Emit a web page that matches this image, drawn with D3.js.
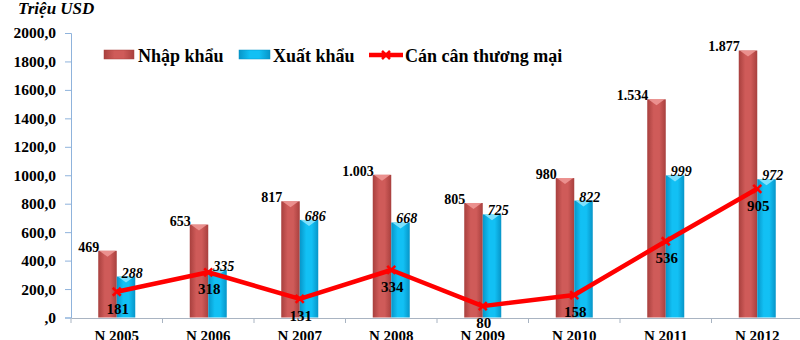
<!DOCTYPE html>
<html><head><meta charset="utf-8">
<script src="https://cdn.jsdelivr.net/npm/d3@7"></script>
<style>
body{margin:0;background:#fff;}
svg text{font-family:"Liberation Serif","DejaVu Serif",serif !important;}
</style></head>
<body>
<svg id="c" width="800" height="340"></svg>
<script>
const categories = ["N 2005","N 2006","N 2007","N 2008","N 2009","N 2010","N 2011","N 2012"];
const importVals = [469,653,817,1003,805,980,1534,1877];
const importLabels = ["469","653","817","1.003","805","980","1.534","1.877"];
const exportVals = [288,335,686,668,725,822,999,972];
const balanceVals = [181,318,131,334,80,158,536,905];
const yTicks = [0,200,400,600,800,1000,1200,1400,1600,1800,2000];
const yTickLabels = [",0","200,0","400,0","600,0","800,0","1000,0","1200,0","1400,0","1600,0","1800,0","2000,0"];
const seriesNames = ["Nhập khẩu","Xuất khẩu","Cán cân thương mại"];

const svg = d3.select("#c");
const x = d3.scaleBand().domain(categories).range([71,803]).padding(0);
const y = d3.scaleLinear().domain([0,2000]).range([317.5,33]);
const cx = c => x(c) + x.bandwidth()/2;
const bw = 18.5;

const defs = svg.append("defs");
function grad(id, edge, mid){
  const g = defs.append("linearGradient").attr("id",id).attr("x1","0").attr("x2","1").attr("y1","0").attr("y2","0");
  g.append("stop").attr("offset","0%").attr("stop-color",edge);
  g.append("stop").attr("offset","35%").attr("stop-color",mid);
  g.append("stop").attr("offset","65%").attr("stop-color",mid);
  g.append("stop").attr("offset","100%").attr("stop-color",edge);
}
grad("gRed","#a8403e","#cf5b59");
grad("gBlue","#0795c8","#12c0f4");

// y axis
const yAxis = d3.axisLeft(y).tickValues(yTicks).tickFormat((d,i)=>yTickLabels[i]).tickSize(6).tickPadding(9);
const ya = svg.append("g").attr("transform","translate(71,0)").call(yAxis).attr("font-family",null);
ya.select(".domain").attr("stroke","#8fb3dc");
ya.selectAll(".tick line").attr("stroke","#8fb3dc");
ya.selectAll(".tick text").attr("font-size","15.5px").attr("font-weight","bold").attr("fill","#000");

// x axis
const xAxis = d3.axisBottom(x).tickSize(0).tickPadding(0);
const xa = svg.append("g").attr("transform","translate(0,318)").call(xAxis).attr("font-family",null);
xa.select(".domain").attr("stroke","#a9b4c2");
xa.selectAll(".tick text").attr("font-size","15px").attr("font-weight","bold").attr("fill","#000")
  .attr("dy",null).attr("y",22.5);
// category boundary ticks
const bounds = categories.map(c=>x(c)).concat([x(categories[categories.length-1])+x.bandwidth()]);
svg.append("g").selectAll("line").data(bounds).join("line")
  .attr("x1",d=>d).attr("x2",d=>d).attr("y1",318).attr("y2",323).attr("stroke","#a9b4c2");

// bars
function drawBars(vals, fill, capFill, offset){
  const g = svg.append("g");
  g.selectAll("rect").data(vals).join("rect")
    .attr("x",(d,i)=>cx(categories[i])+offset).attr("width",bw)
    .attr("y",d=>y(d)).attr("height",d=>y(0)-y(d)).attr("fill",fill);
  g.selectAll("path").data(vals).join("path")
    .attr("d",(d,i)=>{const x0=cx(categories[i])+offset, yt=y(d);
      return `M${x0+1},${yt}L${x0+bw-1},${yt}L${x0+bw/2},${yt+6}Z`;})
    .attr("fill",capFill).attr("opacity",0.85);
}
drawBars(importVals,"url(#gRed)","#f09a98",-bw);
drawBars(exportVals,"url(#gBlue)","#8fe6ff",0);

// bar labels
svg.append("g").selectAll("text").data(importVals).join("text")
  .attr("x",(d,i)=>cx(categories[i])-bw+1).attr("y",d=>y(d)+1)
  .attr("text-anchor","end").attr("font-size","14px").attr("font-weight","bold")
  .text((d,i)=>importLabels[i]);
svg.append("g").selectAll("text").data(exportVals).join("text")
  .attr("x",(d,i)=>cx(categories[i])+5).attr("y",d=>y(d)+1)
  .attr("text-anchor","start").attr("font-size","14px").attr("font-weight","bold").attr("font-style","italic")
  .text(d=>d);

// balance line
const line = d3.line().x((d,i)=>cx(categories[i])).y(d=>y(d));
svg.append("path").datum(balanceVals).attr("d",line).attr("fill","none")
  .attr("stroke","#ff0000").attr("stroke-width",4.5).attr("stroke-linejoin","round");
const mk = svg.append("g");
balanceVals.forEach((d,i)=>{
  const px=cx(categories[i]), py=y(d), s=4;
  mk.append("path").attr("d",`M${px-s},${py-s}L${px+s},${py+s}M${px-s},${py+s}L${px+s},${py-s}`)
    .attr("stroke","#ff0000").attr("stroke-width",2.5);
});
svg.append("g").selectAll("text").data(balanceVals).join("text")
  .attr("x",(d,i)=>cx(categories[i])+1).attr("y",d=>y(d)+22)
  .attr("text-anchor","middle").attr("font-size","15px").attr("font-weight","bold")
  .text(d=>d);

// title
svg.append("text").attr("x",18).attr("y",14).attr("font-size","17px").attr("font-style","italic").attr("font-weight","bold")
  .text("Triệu USD");

// legend
const lg = svg.append("g");
lg.append("rect").attr("x",104).attr("y",50).attr("width",30).attr("height",9).attr("fill","url(#gRed)").attr("stroke","#a8403e").attr("stroke-width",0.5);
lg.append("text").attr("x",138).attr("y",62).attr("font-size","18px").attr("font-weight","bold").text(seriesNames[0]);
lg.append("rect").attr("x",239).attr("y",50).attr("width",31).attr("height",9).attr("fill","url(#gBlue)").attr("stroke","#0795c8").attr("stroke-width",0.5);
lg.append("text").attr("x",273).attr("y",62).attr("font-size","18px").attr("font-weight","bold").text(seriesNames[1]);
lg.append("line").attr("x1",369).attr("x2",403).attr("y1",55).attr("y2",55).attr("stroke","#ff0000").attr("stroke-width",4.5);
lg.append("path").attr("d","M382,51L390,59M382,59L390,51").attr("stroke","#ff0000").attr("stroke-width",2.5);
lg.append("text").attr("x",405).attr("y",62).attr("font-size","18px").attr("font-weight","bold").text(seriesNames[2]);
</script>
</body></html>
